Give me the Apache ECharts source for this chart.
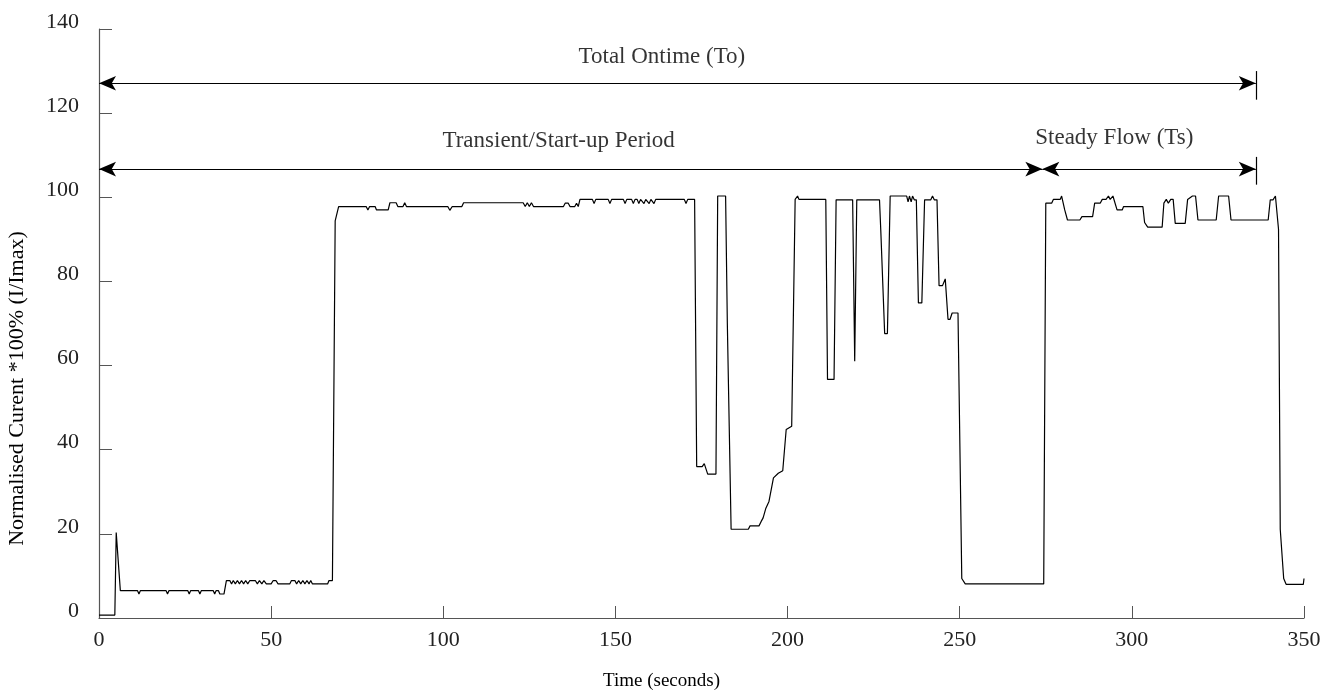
<!DOCTYPE html>
<html>
<head>
<meta charset="utf-8">
<script src="https://cdn.jsdelivr.net/npm/echarts@6/dist/echarts.min.js"></script>
<style>html,body{margin:0;padding:0;background:#fff}#c{width:1325px;height:691px}</style>
</head>
<body>
<div id="c"></div>
<script>
// ---- data ----
const times = [
  0, 4.6, 5.0, 5.4, 6.2, 11.2, 11.6, 12.0, 19.5, 19.9, 20.3, 25.8, 26.2, 26.6, 28.9, 29.3, 29.7,
  33.2, 33.6, 34.0, 34.7, 35.1, 36.3, 37.0, 38.0, 38.5, 39.0, 39.6, 40.2, 40.8, 41.4, 42.0, 42.6,
  43.2, 43.8, 45.4, 46.0, 46.6, 47.3, 47.9, 48.6, 50.0, 50.6, 51.4, 52.0, 55.4, 55.9, 56.9, 57.4,
  58.0, 58.6, 59.2, 59.8, 60.4, 61.0, 61.5, 62.0, 66.4, 66.8, 67.8, 68.6, 68.9, 69.6,
  77.6, 78.1, 78.6, 80.2, 80.6, 84.0, 84.5, 86.3, 86.8, 88.3, 88.8, 89.3, 101.3, 101.9, 102.6,
  105.4, 105.9, 123.2, 123.8, 124.4, 125.0, 125.6, 126.2, 134.9, 135.4, 136.3, 136.8, 138.2, 138.7,
  139.2, 139.7, 143.3, 143.8, 144.3, 147.9, 148.4, 148.9, 152.3, 152.8, 153.3, 154.7, 155.2, 155.7,
  156.3, 156.8, 157.3, 157.8, 158.3, 158.8, 159.3, 159.8, 160.3, 160.7, 161.2, 161.7, 170.0, 170.5,
  171.0, 173.0, 173.6, 175.2, 175.8, 176.2, 176.8, 179.2, 179.7, 182.0, 182.5, 183.0, 183.6, 188.6,
  189.1, 191.7, 192.3, 192.9, 193.7, 194.6, 195.9, 197.3, 198.6, 199.6, 201.2, 202.2, 202.9, 203.3,
  211.1, 211.6, 213.5, 214.1, 218.9, 219.5, 220.1, 226.7, 227.1, 227.5, 228.2, 229.0, 229.8, 234.6,
  235.0, 235.4, 235.9, 236.3, 236.8, 237.4, 238.0, 239.0, 239.8, 241.6, 242.1, 242.6, 243.4, 244.0,
  245.0, 245.8, 246.6, 247.2, 247.8, 249.5, 250.6, 251.6, 274.4, 275.0, 276.7, 277.2, 279.2, 279.6,
  280.5, 281.3, 284.9, 285.5, 288.6, 289.2, 290.8, 291.4, 292.5, 293.2, 293.7, 294.5, 294.9, 295.7,
  297.2, 297.6, 303.2, 303.7, 304.6, 308.8, 309.3, 310.0, 310.6, 311.3, 312.0, 312.6, 315.5, 316.2,
  317.6, 318.5, 319.2, 324.5, 325.2, 328.1, 328.8, 339.6, 340.2, 341.0, 341.7, 342.2, 342.6, 343.1,
  343.5, 344.1, 344.8, 349.8, 350
];
const current = [
  0.7, 0.7, 20.3, 20.3, 6.5, 6.5, 5.7, 6.5, 6.5, 5.7, 6.5, 6.5, 5.7, 6.5, 6.5, 5.7, 6.5,
  6.5, 5.7, 6.5, 6.5, 5.7, 5.7, 8.9, 8.9, 8.1, 8.9, 8.1, 8.9, 8.1, 8.9, 8.1, 8.9,
  8.1, 8.9, 8.9, 8.1, 8.9, 8.1, 8.9, 8.1, 8.1, 8.9, 8.9, 8.1, 8.1, 8.9, 8.9, 8.1,
  8.9, 8.1, 8.9, 8.1, 8.9, 8.1, 8.9, 8.1, 8.1, 8.9, 8.9, 94.4, 94.4, 97.8,
  97.8, 97.0, 97.8, 97.8, 97.0, 97.0, 98.7, 98.7, 97.8, 97.8, 98.7, 97.8, 97.8, 96.9, 97.8,
  97.8, 98.7, 98.7, 97.8, 98.7, 97.8, 98.7, 97.8, 97.8, 98.6, 98.6, 97.8, 97.8, 98.6,
  97.8, 99.5, 99.5, 98.5, 99.5, 99.5, 98.5, 99.5, 99.5, 98.5, 99.5, 99.5, 98.5, 99.5,
  99.5, 98.5, 99.5, 99.5, 98.5, 99.5, 99.5, 98.5, 99.5, 99.5, 98.5, 99.5, 99.5, 98.5,
  99.5, 99.5, 36.0, 36.0, 36.7, 36.7, 34.2, 34.2, 100.3, 100.3, 70.2, 70.2, 21.1, 21.1,
  21.9, 21.9, 22.9, 23.8, 26.1, 27.7, 33.3, 34.4, 35.0, 44.8, 45.6, 99.5, 100.3, 99.5,
  99.5, 56.7, 56.7, 99.4, 99.4, 61.0, 99.4, 99.4, 91.6, 91.2, 67.6, 67.6, 100.3, 100.3,
  98.9, 100.3, 98.9, 100.3, 99.4, 99.4, 74.9, 74.9, 99.4, 99.4, 100.3, 99.4, 99.4, 79.0,
  79.0, 80.6, 71.0, 71.0, 72.5, 72.5, 9.4, 8.1, 8.1, 98.6, 98.6, 99.5, 99.5, 100.3,
  97.0, 94.6, 94.6, 95.4, 95.4, 98.6, 98.6, 99.5, 99.5, 100.3, 99.5, 100.3, 100.3, 97.0,
  97.0, 97.8, 97.8, 94.0, 92.9, 92.9, 98.6, 99.5, 98.6, 99.5, 99.5, 93.8, 93.8, 99.5,
  100.3, 100.3, 94.6, 94.6, 100.3, 100.3, 94.6, 94.6, 99.4, 99.4, 100.3, 100.3, 92.4, 21.1,
  21.1, 9.4, 8.0, 8.0, 9.4
];

// annotation arrows (time start, time end, level)
const arrowStart = [0, 0, 274];
const arrowEnd = [336, 274, 336];
const arrowLevel = [127.1, 106.7, 106.7];
// end bars (time, low, high)
const barTime = [336, 336];
const barLow = [123.2, 103.0];
const barHigh = [130.0, 109.6];
// annotation texts
const noteText = ['Total Ontime (To)', 'Transient/Start-up Period', 'Steady Flow (Ts)'];
const noteX = [163.5, 133.5, 294.9];
const noteY = [133.3, 113.3, 114.0];

// ---- chart ----
const FONT = '"Liberation Serif", "DejaVu Serif", serif';
const series = times.map((t, i) => [t, current[i]]);

const markData = [];
for (let i = 0; i < arrowStart.length; i++) {
  markData.push([
    { coord: [arrowStart[i], arrowLevel[i]], symbol: 'arrow' },
    { coord: [arrowEnd[i], arrowLevel[i]], symbol: 'arrow' }
  ]);
}
for (let i = 0; i < barTime.length; i++) {
  markData.push([
    { coord: [barTime[i], barLow[i]], symbol: 'none' },
    { coord: [barTime[i], barHigh[i]], symbol: 'none' }
  ]);
}

const chart = echarts.init(document.getElementById('c'), null, { renderer: 'canvas' });
chart.setOption({
  animation: false,
  backgroundColor: '#fff',
  grid: { left: 99, right: 21, top: 29, bottom: 73, containLabel: false, outerBoundsMode: 'none' },
  xAxis: {
    type: 'value', min: 0, max: 350, interval: 50,
    name: 'Time (seconds)', nameLocation: 'middle', nameGap: 54,
    nameTextStyle: { fontFamily: FONT, fontSize: 19, color: '#000', padding: [0, 80, 0, 0] },
    axisLine: { show: true, lineStyle: { color: '#555', width: 1.2 } },
    axisTick: { show: true, inside: true, length: 12, lineStyle: { color: '#555', width: 1 } },
    axisLabel: { fontFamily: FONT, fontSize: 22, color: '#222', margin: 11 },
    splitLine: { show: false }
  },
  yAxis: {
    type: 'value', min: 0, max: 140, interval: 20,
    name: 'Normalised Curent *100% (I/Imax)', nameLocation: 'middle', nameGap: 71,
    nameTextStyle: { fontFamily: FONT, fontSize: 22, color: '#000', padding: [0, 130, 0, 0] },
    axisLine: { show: true, lineStyle: { color: '#555', width: 1.2 } },
    axisTick: { show: true, inside: true, length: 13, lineStyle: { color: '#555', width: 1 } },
    axisLabel: { fontFamily: FONT, fontSize: 22, color: '#222', margin: 20, verticalAlign: 'bottom', lineHeight: 14 },
    splitLine: { show: false }
  },
  series: [
    {
      type: 'line', data: series, showSymbol: false, symbol: 'none',
      lineStyle: { color: '#000', width: 1.2 },
      silent: true,
      markLine: {
        silent: true, animation: false,
        symbolSize: [11, 17],
        label: { show: false },
        lineStyle: { color: '#000', width: 1.2, type: 'solid' },
        emphasis: { disabled: true },
        data: markData
      }
    },
    {
      type: 'scatter', symbolSize: 0, silent: true,
      data: noteText.map((s, i) => [noteX[i], noteY[i], s]),
      label: {
        show: true, position: 'inside', formatter: p => p.data[2],
        fontFamily: FONT, fontSize: 23, color: '#000'
      }
    }
  ]
});
</script>
</body>
</html>
